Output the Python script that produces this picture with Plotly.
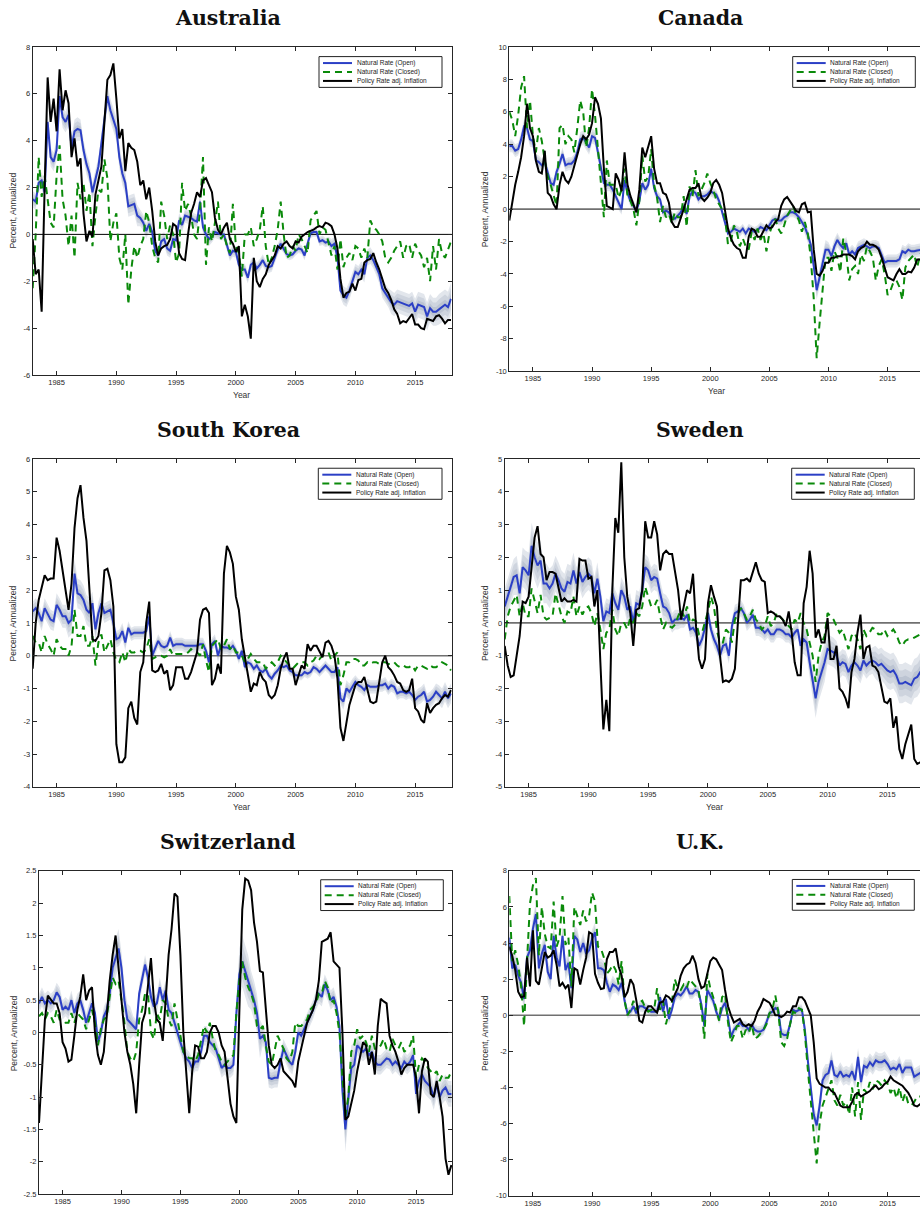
import plotly.graph_objects as go

W, H = 920, 1215

# quarterly dates 1983Q1 .. 2018Q1
quarters = [1983 + i / 4 for i in range(141)]
x_ticks = [1985, 1990, 1995, 2000, 2005, 2010, 2015]

# ---------------- Australia ----------------
aus_open = [1.5, 1.4, 2.2, 2.3, 1.8, 4.8, 3.3, 3.1, 3.6, 5.9, 5.0, 4.8, 5.1, 3.7, 4.4, 4.5,
            4.45, 3.6, 3.0, 2.6, 1.8, 2.4, 2.9, 3.9, 4.8, 5.9, 5.3, 4.9, 4.5, 3.3, 2.6, 2.2,
            1.2, 1.25, 1.3, 0.8, 0.7, 0.5, 0.15, 0.45, 0.1, -0.7, -0.9, -0.3, -0.2, -0.6, -0.7, -0.2,
            -0.25, 0.6, 0.4, 0.8, 0.75, 0.7, 0.6, 0.55, 1.4, 0.3, 0.0, -0.2, -0.1, 0.1, 0.05, 0.0,
            0.0, -0.5, -0.9, -0.7, -0.75, -1.3, -1.5, -1.5, -1.85, -1.3, -1.2, -1.45, -1.3, -1.1, -1.35, -1.4,
            -1.35, -1.0, -0.65, -0.4, -0.6, -0.85, -0.9, -0.85, -0.7, -0.6, -0.65, -0.9, -0.4, 0.05, 0.1, 0.1,
            -0.3, -0.25, -0.35, -0.3, -0.5, -0.4, -1.0, -2.4, -2.6, -2.7, -2.4, -2.0, -1.6, -1.7, -1.5, -1.7,
            -1.0, -0.9, -1.1, -1.4, -1.7, -2.3, -2.5, -2.7, -2.9, -3.0, -2.85, -2.9, -2.95, -3.0, -3.05, -2.95,
            -3.3, -3.0, -3.05, -3.1, -3.5, -3.15, -3.3, -3.3, -3.2, -3.1, -3.0, -3.1, -2.75]
aus_closed = [-2.3, 0.0, 3.3, 1.6, 2.5, 1.5, 0.5, 0.3, 2.5, 3.8, 1.5, 0.8, -0.5, 0.8, -1.0, 2.2,
              1.5, 2.2, 1.0, 1.8, -0.5, 0.8, 1.9, 1.8, 3.2, 2.4, -0.3, 0.5, 0.9, -1.0, -1.5, 0.0,
              -3.0, -1.5, -0.5, -1.0, -0.5, -0.2, 1.0, 0.5, -0.5, -1.0, -1.2, 1.4, 0.8, -0.2, 0.4, 0.0,
              -1.2, -0.8, 2.2, 1.0, 1.3, 0.8, 0.0, -0.2, 1.0, 3.3, -1.3, 0.3, -0.3, 0.5, 1.4, -0.2,
              0.0, -0.5, -0.8, 1.3, -0.5, -0.8, -1.8, 0.0, 0.0, 0.3, -0.5, -0.2, 0.2, 1.2, -0.5, -1.3,
              -1.0, -0.5, 0.2, 1.4, 0.0, -1.0, -0.9, -0.5, -0.7, 0.0, -0.2, -0.5, -0.8, 0.6, 0.8, 1.0,
              0.0, 0.3, 0.2, -0.4, -0.9, -0.5, -1.5, -0.2, -1.4, -1.0, -0.8, -1.1, -0.5, -0.6, -1.0, -0.6,
              -1.0, 0.6, 0.3, 0.2, 0.0, -0.3, -1.0, -1.2, -1.0, -0.7, -0.5, -0.3, -1.0, -0.5, -0.4, -1.0,
              -0.4, -0.7, -0.9, -1.4, -1.0, -2.0, -0.5, -1.5, -0.2, -0.8, -1.0, -0.6, -0.3]
aus_policy = [-0.2, -1.7, -1.5, -3.3, 2.0, 6.7, 4.8, 5.8, 4.4, 7.05, 5.3, 6.15, 5.6, 3.3, 4.1, 2.9,
              3.25, 0.9, -0.3, 0.15, -0.1, 1.7, 2.3, 2.9, 4.8, 6.6, 6.8, 7.3, 5.8, 4.1, 4.5, 2.7,
              3.9, 3.7, 3.6, 3.1, 2.1, 2.3, 1.5, 2.0, 1.0, -0.3, -0.9, -0.6, -0.5, -0.45, -0.2, 0.45,
              0.35, -0.8, -1.05, -1.1, 0.0, 0.9, 1.3, 1.8, 1.6, 2.3, 2.4, 2.1, 1.8, 0.7, 0.2, 0.0,
              0.3, 0.5, -0.2, -0.4, -0.75, -0.5, -3.5, -3.0, -3.5, -4.45, -1.0, -2.0, -2.25, -1.9, -1.7, -1.3,
              -1.1, -0.9, -0.5, -0.6, -0.4, -0.3, -0.5, -0.6, -0.3, -0.35, -0.1, 0.0, 0.1, 0.15, 0.2, 0.3,
              0.35, 0.3, 0.5, 0.45, 0.35, 0.0, -0.6, -1.9, -2.7, -2.5, -2.45, -2.1, -2.4, -1.95, -1.9, -1.2,
              -1.1, -1.05, -0.8, -1.2, -1.5, -1.9, -2.3, -2.5, -2.8, -3.2, -3.4, -3.8, -3.7, -3.75, -3.55, -3.4,
              -3.85, -3.85, -4.0, -4.05, -3.6, -3.65, -3.7, -3.5, -3.45, -3.6, -3.8, -3.65, -3.65]
aus_band = [0.35, 0.4, 0.45, 0.5, 0.45, 0.4, 0.5, 0.5, 0.45, 0.35, 0.3, 0.3, 0.3, 0.3, 0.3, 0.25,
            0.25, 0.25, 0.25, 0.25, 0.25, 0.2, 0.2, 0.2, 0.2, 0.3, 0.4, 0.35, 0.35, 0.4, 0.5, 0.5,
            0.55, 0.6, 0.65, 0.7]

# ---------------- Canada ----------------
can_open = [3.9, 3.9, 3.6, 3.7, 4.3, 5.1, 5.0, 4.3, 4.2, 3.0, 2.9, 2.7, 2.9, 2.2, 1.6, 1.5,
            2.3, 2.8, 3.4, 2.7, 2.8, 2.8, 3.0, 3.5, 4.3, 4.4, 4.1, 3.8, 4.5, 4.4, 3.5, 2.5,
            1.6, 1.5, 1.5, 1.2, 0.8, 0.3, 0.0, 1.8, 1.0, 0.5, 0.2, -0.1, 0.5, 1.6, 1.2, 1.5,
            2.5, 1.3, 0.8, 0.6, -0.2, -0.1, -0.2, -0.5, -0.6, -0.4, -0.2, 0.2, -0.3, 0.8, 1.1, 1.0,
            0.6, 0.8, 0.8, 0.9, 1.1, 1.0, 0.9, 0.5, -0.2, -0.8, -1.5, -1.4, -1.2, -1.3, -1.4, -1.2,
            -1.5, -1.2, -1.3, -1.4, -1.3, -1.1, -1.2, -1.3, -1.0, -0.7, -0.6, -0.7, -0.7, -0.5, -0.4, -0.2,
            -0.2, -0.3, -0.5, -0.8, -1.1, -1.6, -2.2, -3.5, -5.0, -4.2, -3.4, -2.5, -2.5, -2.9, -2.3, -1.9,
            -2.2, -2.4, -2.1, -2.8, -2.6, -2.8, -2.4, -2.3, -2.2, -2.3, -2.4, -2.3, -2.3, -2.4, -2.8, -3.3,
            -3.2, -3.2, -3.2, -3.2, -3.1, -2.6, -2.7, -2.5, -2.6, -2.6, -2.55, -2.5, -2.5]
can_closed = [6.0, 5.5, 4.5, 5.8, 7.5, 8.2, 5.0, 6.7, 4.5, 3.5, 5.0, 4.2, 3.0, 2.0, 1.5, 0.8,
              0.2, 5.0, 5.2, 4.0, 4.5, 4.3, 3.5, 5.0, 6.7, 6.0, 3.8, 5.0, 7.4, 5.8, 3.8, 2.0,
              -0.5, 3.0, 1.5, 1.5, 1.5, 0.7, 1.2, 2.5, 0.8, 0.5, 0.0, -1.0, 0.5, 3.3, 1.7, 2.0,
              3.7, 1.5, 0.7, -0.8, 0.2, -0.5, -0.3, -0.9, -0.2, -0.5, -0.5, 0.8, -1.1, 1.4, 0.8, 2.4,
              0.8, 1.2, 1.6, 2.2, 1.6, 1.2, 0.6, 0.3, 0.0, -0.5, -2.2, -2.0, -1.0, -1.4, -2.3, -1.8,
              -2.3, -2.5, -1.4, -1.9, -1.2, -1.9, -1.5, -2.6, -1.5, -1.0, -0.6, -1.2, -1.5, -1.0, -0.4, -0.1,
              0.2, -0.3, -0.7, -1.4, -0.8, -1.5, -3.0, -5.5, -9.2, -7.0, -4.8, -3.0, -3.0, -3.8, -2.6, -3.0,
              -3.9, -1.8, -2.7, -4.4, -3.7, -3.5, -4.0, -2.8, -3.2, -2.3, -2.6, -3.0, -4.4, -3.5, -3.1, -4.0,
              -5.3, -5.0, -4.5, -4.4, -4.8, -5.6, -3.6, -3.2, -3.0, -2.8, -3.6, -2.8, -2.5]
can_policy = [-0.7, 0.5, 1.5, 2.3, 3.2, 4.5, 6.5, 5.0, 4.5, 3.0, 2.3, 2.2, 3.6, 1.0, 0.8, 0.3,
              0.0, 1.5, 2.3, 1.8, 1.6, 2.0, 2.7, 3.3, 4.0, 4.5, 4.3, 4.6, 5.3, 6.9, 6.5, 5.6,
              2.5, 0.2, 0.1, 0.0, 2.2, 1.8, 1.1, 3.5, 1.5, 0.8, 0.3, -0.2, 1.2, 3.8, 3.2, 3.9,
              4.5, 2.5, 1.6, 1.6, 1.0, 0.9, 0.4, -0.8, -1.1, -1.1, -0.6, 0.0, 0.6, 1.2, 1.3, 1.3,
              1.6, 0.7, 0.5, 0.7, 1.0, 1.6, 1.8, 1.5, 1.0, 0.0, -1.2, -1.8, -2.2, -2.4, -2.5, -3.0,
              -3.0, -1.7, -1.2, -1.3, -1.7, -1.7, -1.3, -1.0, -1.2, -1.1, -0.8, -0.6, 0.2, 0.6, 0.75, 0.5,
              0.2, -0.1, -0.2, 0.3, 0.4, -0.2, -0.15, -2.5, -4.0, -4.1, -3.8, -3.3, -3.3, -3.0, -3.0, -2.9,
              -2.9, -2.8, -2.8, -2.8, -2.9, -3.1, -2.6, -2.4, -2.3, -2.0, -2.2, -2.2, -2.3, -2.5, -3.0, -3.6,
              -4.2, -4.3, -4.4, -4.0, -3.7, -4.0, -4.0, -3.85, -3.9, -3.6, -3.1, -3.1, -3.0]
can_band = [0.4, 0.45, 0.4, 0.4, 0.4, 0.4, 0.45, 0.45, 0.4, 0.35, 0.35, 0.35, 0.35, 0.35, 0.3, 0.3,
            0.3, 0.3, 0.3, 0.3, 0.3, 0.3, 0.3, 0.3, 0.3, 0.45, 0.6, 0.45, 0.4, 0.4, 0.4, 0.4,
            0.4, 0.4, 0.4, 0.4]

# ---------------- South Korea ----------------
kor_open = [1.35, 1.45, 1.3, 1.05, 1.45, 1.25, 1.1, 1.05, 1.55, 1.4, 1.2, 1.2, 1.0, 1.1, 2.5, 1.9,
            1.85, 1.7, 1.4, 1.3, 1.6, 0.8, 1.3, 1.6, 1.3, 1.35, 1.4, 1.0, 0.5, 0.55, 0.75, 0.4,
            0.85, 0.65, 0.7, 0.7, 0.7, 0.7, 0.75, 1.2, 0.0, 0.25, 0.45, 0.3, 0.25, 0.3, 0.55, 0.3,
            0.35, 0.35, 0.35, 0.3, 0.3, 0.3, 0.3, 0.3, 0.35, 0.35, 0.15, -0.2, 0.35, 0.45, 0.0, 0.3,
            0.25, 0.25, 0.2, 0.3, 0.15, -0.1, 0.15, -0.35, -0.2, -0.25, -0.4, -0.3, -0.45, -0.5, -0.4, -0.6,
            -0.7, -0.55, -0.45, -0.3, -0.35, -0.3, -0.45, -0.5, -0.6, -0.6, -0.6, -0.5, -0.55, -0.5, -0.35, -0.4,
            -0.5, -0.4, -0.3, -0.4, -0.5, -0.5, -0.35, -1.3, -1.4, -1.0, -1.1, -0.95, -0.8, -0.9, -0.95, -1.05,
            -0.9, -0.95, -0.95, -0.95, -0.9, -0.9, -0.85, -1.0, -0.9, -0.95, -1.15, -1.1, -1.1, -1.15, -1.1, -1.2,
            -1.35, -1.25, -1.2, -1.1, -1.4, -1.35, -1.25, -1.1, -1.2, -1.3, -1.1, -1.3, -1.15]
kor_closed = [0.6, 0.4, 0.4, 0.1, 0.6, 0.35, 0.2, 0.0, 0.5, 0.3, 0.2, 0.2, 0.0, 0.3, 1.4, 0.6,
              0.6, 0.9, 0.3, 0.3, 0.6, -0.3, 0.4, 0.65, 0.1, 0.3, 0.5, 0.1, -0.15, -0.2, 0.1, -0.2,
              0.2, 0.1, 0.1, 0.15, 0.15, 0.1, 0.2, 0.5, -0.1, -0.05, 0.0, 0.0, -0.05, 0.0, 0.2, 0.0,
              0.05, 0.05, 0.05, 0.05, 0.1, 0.2, 0.15, 0.1, 0.0, 0.35, -0.15, -0.5, 0.3, 0.4, 0.5, 0.2,
              0.3, 0.5, 0.2, 0.3, 0.1, 0.1, 0.0, -0.2, -0.1, 0.05, -0.1, -0.2, -0.2, -0.2, -0.4, -0.3,
              -0.2, -0.3, -0.2, 0.0, -0.1, -0.2, -0.3, -0.4, -0.3, -0.2, -0.2, -0.2, -0.3, -0.2, -0.15, 0.0,
              -0.1, 0.0, 0.05, 0.1, -0.15, 0.0, 0.1, -0.9, -0.6, -0.2, -0.2, -0.1, -0.1, -0.15, -0.3, -0.3,
              -0.2, -0.25, -0.2, -0.2, -0.25, -0.2, -0.2, -0.25, -0.25, -0.2, -0.3, -0.35, -0.3, -0.35, -0.35, -0.3,
              -0.45, -0.3, -0.3, -0.35, -0.4, -0.3, -0.35, -0.35, -0.3, -0.2, -0.25, -0.3, -0.45]
kor_policy = [-0.4, 1.0, 1.7, 2.1, 2.45, 2.3, 2.35, 2.35, 3.6, 3.2, 2.6, 2.0, 1.4, 2.2, 3.9, 4.8,
              5.2, 4.2, 3.5, 2.0, 0.5, 0.45, 0.6, 1.3, 2.6, 2.65, 2.3, 1.5, -2.7, -3.25, -3.25, -3.1,
              -1.6, -1.4, -1.9, -2.1, -0.5, -0.2, 1.0, 1.65, -0.45, -0.5, -0.45, -0.25, -0.55, -0.45, -1.05, -0.9,
              -0.35, -0.35, -0.35, -0.7, -0.7, -0.5, -0.2, 0.1, 1.1, 1.4, 1.45, 1.3, -0.9, -0.7, -0.25, -0.55,
              2.5, 3.35, 3.15, 2.8, 1.8, 1.4, 0.5, 0.0, -0.6, -1.1, -0.85, -0.9, -0.5, -0.7, -0.8, -1.2,
              -1.3, -1.2, -0.9, -0.4, -0.1, 0.1, -0.4, -0.4, -0.9, -0.6, -0.3, -0.4, 0.35, 0.15, 0.3, 0.3,
              0.1, -0.05, 0.4, 0.45, 0.3, 0.0, -0.7, -2.2, -2.6, -2.0, -1.5, -1.2, -0.9, -0.8, -0.8, -0.65,
              -1.0, -1.4, -1.45, -1.4, -0.8, -0.2, 0.0, -0.35, -0.45, -0.6, -0.8, -0.85, -1.05, -1.1, -1.05, -0.7,
              -1.6, -1.7, -1.95, -2.05, -1.45, -1.75, -1.6, -1.5, -1.45, -1.3, -1.2, -1.25, -1.05]
kor_band = [0.3, 0.3, 0.35, 0.45, 0.45, 0.35, 0.3, 0.25, 0.2, 0.2, 0.2, 0.2, 0.2, 0.2, 0.2, 0.2,
            0.2, 0.15, 0.15, 0.15, 0.15, 0.15, 0.15, 0.15, 0.15, 0.2, 0.25, 0.2, 0.2, 0.2, 0.2, 0.2,
            0.25, 0.25, 0.3, 0.3]

# ---------------- Sweden ----------------
swe_open = [0.5, 0.8, 1.1, 1.4, 1.45, 0.9, 1.7, 1.6, 1.45, 2.35, 2.0, 1.75, 1.9, 1.2, 1.2, 1.05,
            1.2, 1.5, 1.3, 1.05, 0.95, 1.25, 1.2, 1.6, 1.2, 1.55, 1.25, 1.4, 1.5, 1.4, 0.9, 1.35,
            0.8, 0.05, 0.35, 0.3, 0.9, 0.6, 0.4, 1.0, 0.8, 0.4, 0.5, 0.0, 0.6, 0.55, 1.0, 1.7,
            1.6, 1.3, 1.4, 1.35, 0.9, 0.5, 0.45, 0.3, 0.0, 0.1, 0.1, 0.15, 0.1, 0.25, -0.2, -0.15,
            -0.3, -0.7, -0.5, -0.15, 0.3, -0.2, -0.5, -0.7, -1.0, -0.7, -0.65, -1.0, -0.1, 0.3, 0.35, 0.45,
            0.3, 0.0, 0.1, 0.25, -0.15, -0.15, -0.2, -0.3, -0.2, -0.35, -0.35, -0.2, -0.2, -0.25, -0.35, -0.35,
            -0.45, -0.3, -0.2, -0.7, -0.5, -0.6, -1.2, -1.8, -2.3, -1.8, -1.5, -1.2, -0.8, -0.85, -0.9, -1.0,
            -1.3, -1.2, -1.25, -1.5, -1.3, -1.2, -1.3, -1.45, -1.15, -1.3, -1.2, -1.15, -1.2, -1.3, -1.25, -1.35,
            -1.45, -1.5, -1.45, -1.6, -1.85, -1.85, -1.8, -1.85, -1.9, -1.7, -1.65, -1.5, -1.5]
swe_closed = [-0.5, 0.2, 0.5, 0.7, 0.85, 0.2, 0.6, 0.2, 0.2, 1.05, 0.7, 0.3, 0.85, 0.2, 0.1, 0.15,
              0.2, 0.9, 0.5, 0.2, 0.0, 0.35, 0.3, 0.8, 0.2, 0.5, 0.25, 0.45, 0.5, 0.3, -0.1, 0.3,
              -0.2, -0.8, -0.3, -0.2, 0.4, -0.2, -0.4, 0.0, 0.0, -0.2, 0.15, 0.0, 0.3, 0.2, 0.5, 1.1,
              0.8, 0.5, 0.5, 0.7, 0.2, -0.2, 0.0, -0.1, -0.15, -0.05, 0.2, 0.4, 0.2, 0.5, 0.0, 0.1,
              0.05, -0.35, -0.3, 0.0, 0.35, 0.8, 0.5, -0.25, -0.6, -0.6, -0.2, -0.3, -0.6, 0.1, 0.3, 0.45,
              0.3, 0.1, 0.2, 0.4, 0.1, 0.0, -0.2, -0.1, 0.2, -0.1, 0.0, 0.3, 0.2, 0.1, 0.0, -0.1,
              -0.2, 0.1, 0.0, 0.3, 0.0, -0.2, -0.6, -1.0, -1.8, -1.0, -0.6, -0.4, 0.3, 0.2, 0.1, -0.1,
              -0.3, -0.2, -0.5, -0.8, -0.4, -0.3, -0.5, -0.8, -0.2, -0.4, -0.3, -0.15, -0.2, -0.35, -0.35, -0.2,
              -0.4, -0.3, -0.2, -0.35, -0.6, -0.7, -0.55, -0.5, -0.5, -0.45, -0.4, -0.35, -0.35]
swe_policy = [-0.7, -1.3, -1.65, -1.6, -1.0, -0.4, 0.65, 0.6, 0.8, 1.8, 2.6, 2.95, 2.1, 2.0, 1.3, 1.55,
              1.55, 1.5, 1.1, 0.65, 0.75, 0.65, 0.65, 0.7, 0.65, 1.95, 1.9, 1.9, 1.35, 1.4, 0.5, 1.0,
              -1.2, -3.25, -2.35, -3.3, 1.0, 3.2, 2.75, 4.9, 2.0, 0.8, 0.3, -0.7, 0.4, 0.45, 1.0, 3.1,
              2.6, 2.6, 3.1, 2.7, 1.6, 2.1, 2.2, 2.1, 2.1, 1.6, 1.0, 0.1, 0.5, 1.0, 0.9, 1.5,
              -0.1, -1.1, -1.4, -1.1, 0.6, 1.15, 0.8, 0.5, -1.0, -1.8, -1.75, -1.8, -1.7, -1.4, 0.0, 1.3,
              1.3, 1.35, 1.25, 1.55, 1.85, 1.5, 1.3, 1.25, 0.3, 0.35, 0.3, 0.2, 0.2, 0.1, -0.1, 0.35,
              -0.3, -1.2, -1.6, -1.6, 0.6, 1.1, 2.2, 1.5, -0.45, -0.2, -0.6, -0.6, 0.15, -1.1, -1.1, -0.7,
              -2.0, -2.1, -2.3, -2.6, -1.5, -1.1, -0.3, 0.25, -1.1, -0.75, -0.7, -1.3, -1.35, -1.5, -1.9, -2.4,
              -2.45, -2.3, -3.2, -2.85, -3.85, -4.15, -3.7, -3.4, -3.1, -4.15, -4.3, -4.25, -4.2]
swe_band = [0.55, 0.6, 0.7, 0.6, 0.55, 0.55, 0.5, 0.5, 0.4, 0.4, 0.4, 0.4, 0.4, 0.4, 0.3, 0.25,
            0.25, 0.25, 0.25, 0.25, 0.25, 0.25, 0.25, 0.25, 0.25, 0.45, 0.6, 0.45, 0.4, 0.4, 0.4, 0.5,
            0.55, 0.6, 0.6, 0.6]

# ---------------- Switzerland ----------------
che_open = [0.45, 0.55, 0.45, 0.5, 0.45, 0.5, 0.62, 0.55, 0.35, 0.4, 0.35, 0.5, 0.3, 0.45, 0.5, 0.35,
            0.15, 0.3, 0.45, 0.3, -0.15, 0.0, 0.25, 0.35, 0.6, 1.0, 1.15, 1.3, 1.0, 0.5, 0.2, 0.15,
            0.1, 0.05, 0.6, 0.85, 1.05, 0.85, 0.55, 0.4, 0.45, 0.7, 0.5, 0.65, 0.35, 0.3, 0.15, 0.0,
            -0.15, -0.3, -0.4, -0.45, -0.55, -0.45, -0.45, -0.3, -0.05, -0.05, -0.15, -0.2, -0.25, -0.4, -0.55, -0.5,
            -0.55, -0.55, -0.5, 0.3, 0.9, 1.1, 0.95, 0.8, 0.65, 0.5, 0.3, -0.1, -0.05, -0.15, -0.7, -0.72,
            -0.7, -0.7, -0.45, -0.25, -0.35, -0.45, -0.5, -0.3, 0.0, -0.05, 0.05, 0.15, 0.25, 0.35, 0.5, 0.6,
            0.55, 0.75, 0.65, 0.5, 0.55, 0.4, 0.1, -0.9, -1.5, -1.0, -0.55, -0.5, -0.2, -0.25, -0.3, -0.25,
            -0.35, -0.3, -0.45, -0.5, -0.5, -0.45, -0.4, -0.42, -0.5, -0.45, -0.5, -0.55, -0.45, -0.5, -0.45, -0.35,
            -0.95, -0.75, -0.65, -0.75, -0.8, -0.85, -1.0, -0.8, -1.0, -0.9, -0.85, -0.95, -0.95]
che_closed = [0.25, 0.3, 0.2, 0.3, 0.25, 0.15, 0.35, 0.2, 0.2, 0.15, 0.15, 0.3, 0.15, 0.3, 0.25, 0.2,
              0.05, 0.2, 0.35, 0.15, -0.2, 0.05, 0.2, 0.25, 0.55, 0.85, 0.75, 0.8, 0.5, 0.15, -0.3, -0.4,
              -0.45, -0.3, 0.2, 0.35, 0.6, 0.6, 0.0, -0.1, 0.3, 0.2, 0.5, 0.45, 0.2, 0.1, 0.45, 0.2,
              -0.1, -0.3, -0.35, -0.4, -0.4, -0.45, -0.35, -0.15, 0.1, 0.0, 0.15, -0.1, -0.3, -0.35, -0.45, -0.5,
              -0.45, -0.4, -0.35, 0.3, 0.8, 1.1, 0.85, 0.7, 0.6, 0.45, 0.1, 0.05, 0.1, -0.2, -0.45, -0.5,
              -0.25, -0.05, -0.15, -0.25, -0.4, -0.45, -0.3, 0.15, 0.1, 0.1, 0.15, 0.2, 0.35, 0.4, 0.45, 0.6,
              0.6, 0.8, 0.7, 0.45, 0.5, 0.3, 0.0, -0.7, -1.3, -1.0, -0.3, -0.2, 0.05, -0.1, -0.05, -0.15,
              -0.3, -0.05, -0.25, -0.25, -0.2, -0.1, -0.25, -0.3, -0.1, -0.2, -0.25, -0.15, -0.3, -0.25, -0.2, -0.05,
              -0.7, -0.5, -0.4, -0.45, -0.55, -0.6, -0.65, -0.6, -0.75, -0.65, -0.7, -0.7, -0.6]
che_policy = [-1.4, -0.5, 0.2, 0.57, 0.5, 0.45, 0.45, 0.3, -0.15, -0.25, -0.45, -0.42, -0.05, 0.35, 0.55, 0.9,
              0.5, 0.65, 0.7, 0.0, -0.35, -0.5, -0.3, 0.3, 0.8, 1.2, 1.5, 1.0, 0.5, 0.0, -0.3, -0.5,
              -0.8, -1.25, -0.5, 0.15, 0.3, 0.7, 1.15, 0.5, 0.2, 0.15, -0.13, 0.5, 1.2, 1.6, 2.15, 2.1,
              1.2, 0.0, -0.7, -1.25, -0.6, -0.2, -0.22, -0.4, -0.4, -0.3, 0.0, 0.1, 0.1, 0.0, -0.2, -0.3,
              -0.7, -1.1, -1.3, -1.4, 0.3, 1.9, 2.38, 2.35, 2.2, 1.7, 1.4, 0.95, 0.93, 0.3, -0.2, -0.5,
              -0.55, -0.5, -0.4, -0.6, -0.65, -0.7, -0.75, -0.85, -0.45, -0.25, -0.05, 0.15, 0.25, 0.35, 0.5, 0.8,
              1.4, 1.42, 1.45, 1.55, 1.1, 1.05, 1.0, 0.0, -1.35, -1.3, -1.1, -0.9, -0.6, -0.35, -0.15, -0.2,
              -0.5, -0.3, -0.65, 0.1, 0.52, 0.48, 0.45, -0.05, -0.2, -0.3, -0.45, -0.65, -0.55, -0.5, -0.5, -0.5,
              -0.7, -1.25, -0.6, -0.4, -0.45, -0.95, -1.0, -0.75, -1.0, -1.3, -1.95, -2.2, -2.05]
che_band = [0.15, 0.15, 0.15, 0.15, 0.15, 0.15, 0.3, 0.25, 0.15, 0.15, 0.15, 0.15, 0.15, 0.15, 0.15, 0.15,
            0.15, 0.4, 0.3, 0.15, 0.15, 0.15, 0.15, 0.15, 0.15, 0.15, 0.35, 0.15, 0.15, 0.15, 0.15, 0.15,
            0.2, 0.2, 0.2, 0.2]

# ---------------- U.K. ----------------
gbr_open = [4.3, 2.6, 2.8, 2.2, 1.8, 0.9, 3.2, 3.6, 4.8, 5.6, 2.6, 3.4, 3.9, 2.4, 2.0, 4.4,
            3.2, 2.7, 4.4, 2.5, 2.9, 1.5, 4.4, 4.2, 3.5, 4.0, 3.4, 3.6, 4.2, 4.6, 2.6, 2.6,
            2.5, 1.8, 1.3, 1.7, 1.6, 1.4, 1.8, 0.8, 0.1, 0.2, 0.5, 0.1, 0.5, 0.5, 0.4, 0.3,
            0.2, 0.2, 0.2, 1.0, 0.2, 0.9, -0.2, 0.3, 1.0, 1.2, 1.1, 1.3, 1.6, 1.2, 1.2, 1.4,
            1.3, 0.6, -0.6, 1.4, 1.1, 0.8, 0.2, -0.2, 0.4, 0.7, -0.1, -1.2, -0.8, -0.6, -0.4, -0.6,
            -0.6, -0.8, -0.5, -0.8, -0.9, -0.9, -0.8, -0.4, 0.1, 0.2, 0.4, 0.3, -1.0, -1.1, -1.1, -0.5,
            0.3, 0.2, 0.3, 0.3, -0.8, -2.5, -4.0, -5.5, -6.1, -5.0, -3.6, -3.3, -3.2, -2.5, -3.3, -3.4,
            -3.1, -3.4, -3.3, -3.4, -3.1, -3.6, -2.3, -3.7, -2.8, -2.9, -2.6, -2.8, -2.5, -2.6, -2.6, -2.5,
            -2.7, -3.0, -2.9, -3.0, -2.7, -3.2, -2.9, -2.9, -2.9, -3.4, -3.3, -3.2, -3.2]
gbr_closed = [6.6, 3.0, 3.6, 2.8, 1.6, -0.6, 3.0, 6.2, 7.2, 7.6, 3.3, 6.0, 4.5, 3.8, 3.7, 6.3,
              3.8, 4.3, 6.6, 3.9, 4.3, 1.6, 6.0, 5.5, 5.0, 5.8, 5.2, 5.5, 6.8, 6.3, 3.8, 3.7,
              3.2, 2.3, 2.5, 2.8, 2.5, 1.7, 3.0, 0.8, 0.0, 0.3, 0.8, 0.3, 0.7, 0.8, 0.4, 0.2,
              0.3, 0.3, 1.5, 0.3, 0.8, -0.5, 0.2, 0.7, 2.0, 1.5, 1.4, 1.7, 1.5, 2.0, 1.8, 1.6,
              1.4, 0.3, -1.3, 2.3, 1.5, 1.0, 0.3, -0.3, 1.0, 1.2, -0.4, -1.5, -1.1, -0.6, -0.6, -1.3,
              -0.8, -1.0, -0.5, -1.3, -1.2, -1.0, -0.8, -0.5, 0.1, 0.3, 1.1, 0.2, -1.5, -1.7, -1.3, -0.5,
              0.2, 0.1, 0.4, 0.3, -1.0, -3.0, -5.0, -6.5, -8.2, -6.0, -5.0, -4.5, -4.0, -3.6, -4.7, -5.0,
              -4.4, -5.0, -4.8, -5.5, -4.0, -5.6, -3.7, -5.8, -4.1, -4.3, -3.7, -4.1, -3.6, -3.7, -3.9, -3.6,
              -3.8, -4.3, -4.0, -4.6, -4.0, -4.8, -4.3, -4.9, -5.0, -4.8, -4.5, -4.5, -4.4]
gbr_policy = [3.8, 3.3, 2.5, 1.3, 1.0, 1.05, 3.2, 1.6, 4.7, 1.9, 1.7, 2.6, 3.5, 3.2, 3.3, 3.6,
              2.8, 1.6, 1.8, 1.5, 1.7, 0.4, 2.6, 2.5, 1.7, 2.5, 3.2, 4.6, 4.5, 2.3, 1.8, 1.45,
              1.5, 3.1, 3.5, 3.5, 3.7, 2.7, 2.2, 1.0, 1.3, 2.0, 1.7, 0.8, -0.3, -0.4, 0.2, 0.5,
              0.5, 0.3, 0.15, 0.7, 0.75, 1.1, 1.0, 0.8, 1.2, 1.5, 2.2, 2.6, 2.8, 2.9, 3.3, 2.9,
              2.0, 1.5, 1.6, 2.3, 3.0, 3.2, 3.1, 2.8, 2.5, 1.4, 0.5, 0.0, -0.4, -0.3, -0.2, -0.5,
              -0.6, -0.5, -0.6, -0.3, 0.2, 0.5, 0.9, 0.8, 0.7, 0.4, 0.0, 0.0, -0.1, 0.0, 0.2, 0.15,
              0.5, 0.5, 1.0, 1.0, 0.8, 0.4, 0.0, -1.5, -3.5, -3.8, -3.9, -4.0, -4.0, -4.2, -4.3, -4.7,
              -5.0, -5.1, -5.1, -5.1, -4.8, -4.4, -4.3, -4.5, -4.4, -4.3, -4.2, -4.0, -3.9, -4.1, -4.0, -3.8,
              -3.7, -3.4, -3.6, -3.7, -3.8, -3.9, -4.1, -4.3, -4.6, -5.0, -5.05, -4.9, -4.8]
gbr_band = [0.7, 0.65, 0.65, 0.6, 0.6, 0.6, 0.55, 0.55, 0.5, 0.35, 0.3, 0.3, 0.3, 0.3, 0.3, 0.3,
            0.3, 0.3, 0.3, 0.3, 0.3, 0.3, 0.3, 0.3, 0.3, 0.5, 0.6, 0.5, 0.5, 0.5, 0.5, 0.5,
            0.45, 0.45, 0.45, 0.45]

SERIES_NAMES = ["Natural Rate (Open)", "Natural Rate (Closed)", "Policy Rate adj. Inflation"]

# ---------------- styling / layout ----------------
BLUE = "#2b3fc6"
GREEN = "#0a8a0a"
BLACK = "#000000"
BAND_COLORS = ["#e2e6ec", "#ced4de", "#bcc4d2"]
BAND_FRACS = [1.0, 0.66, 0.33]
DASH = "7px,5px"


def px_x(v):
    """window pixel -> paper fraction"""
    return v / W


def px_y(v):
    return 1 - v / H


panels = [
    dict(title="Australia", open=aus_open, closed=aus_closed, policy=aus_policy, band=aus_band,
         box=(32.7, 451.7, 43.3, 373.7), xr=(1983.0, 2018.06), yr=(-6, 8), dy=2, right=False,
         title_xy=(228, 14.5), ylab_xy=(13, 208), xlab_xy=(242, 394), leg=(319, 53, 442, 84),
         zero=("#000000", 1.0)),
    dict(title="Canada", open=can_open, closed=can_closed, policy=can_policy, band=can_band,
         box=(509.3, 920, 43.3, 370.0), xr=(1983.0, 2017.74), yr=(-10, 10), dy=2, right=True,
         title_xy=(700.5, 14.5), ylab_xy=(485.7, 207), xlab_xy=(716, 390), leg=(792.7, 53, 915.3, 84),
         zero=("#707070", 1.6)),
    dict(title="South Korea", open=kor_open, closed=kor_closed, policy=kor_policy, band=kor_band,
         box=(32.7, 451.7, 458.3, 788.7), xr=(1983.0, 2018.06), yr=(-4, 6), dy=1, right=False,
         title_xy=(228, 429.5), ylab_xy=(13, 624), xlab_xy=(242, 809), leg=(318.3, 467.7, 442, 499),
         zero=("#707070", 1.6)),
    dict(title="Sweden", open=swe_open, closed=swe_closed, policy=swe_policy, band=swe_band,
         box=(504.7, 920, 458.3, 788.7), xr=(1983.0, 2017.73), yr=(-5, 5), dy=1, right=True,
         title_xy=(700, 429.5), ylab_xy=(485.7, 624), xlab_xy=(714, 809), leg=(791.7, 467.7, 914.3, 499),
         zero=("#707070", 1.6)),
    dict(title="Switzerland", open=che_open, closed=che_closed, policy=che_policy, band=che_band,
         box=(39.0, 452.0, 873.3, 1199.0), xr=(1983.0, 2018.05), yr=(-2.5, 2.5), dy=0.5, right=False,
         title_xy=(228, 844.5), ylab_xy=(14, 1037), xlab_xy=None, leg=(320.7, 882.3, 443.3, 913.3),
         zero=("#000000", 1.0)),
    dict(title="U.K.", open=gbr_open, closed=gbr_closed, policy=gbr_policy, band=gbr_band,
         box=(509.3, 920, 873.3, 1200.7), xr=(1983.0, 2017.74), yr=(-10, 8), dy=2, right=True,
         title_xy=(700, 844.5), ylab_xy=(485.7, 1037), xlab_xy=None, leg=(792.3, 882, 914.3, 913),
         zero=("#707070", 1.6)),
]

for p in panels:
    for k in ("open", "closed", "policy"):
        assert len(p[k]) == len(quarters), (p["title"], k, len(p[k]))
    assert len(p["band"]) == 36, (p["title"], "band", len(p["band"]))

fig = go.Figure()
layout = dict(width=W, height=H, margin=dict(l=0, r=0, t=0, b=0),
              paper_bgcolor="white", plot_bgcolor="white", showlegend=False, hovermode=False)
shapes, annotations = [], []

AXIS_COLOR = "#262626"
TICK_FONT = dict(family="Liberation Sans, Arial, sans-serif", size=7.5, color=AXIS_COLOR)
LABEL_FONT = dict(family="Liberation Sans, Arial, sans-serif", size=8.5, color="#333333")
LEG_FONT = dict(family="Liberation Sans, Arial, sans-serif", size=6.5, color="#1a1a1a")

for i, p in enumerate(panels, start=1):
    sfx = "" if i == 1 else str(i)
    xa, ya = "x" + sfx, "y" + sfx
    x0, x1, y0, y1 = p["box"]

    bw_q = [p["band"][int(t - 1983)] for t in quarters]

    # confidence bands (nested)
    for frac, col in zip(BAND_FRACS, BAND_COLORS):
        lo = [m - frac * b for m, b in zip(p["open"], bw_q)]
        hi = [m + frac * b for m, b in zip(p["open"], bw_q)]
        fig.add_trace(go.Scatter(x=quarters, y=lo, mode="lines", line=dict(width=0, color=col),
                                 xaxis=xa, yaxis=ya, hoverinfo="skip", showlegend=False))
        fig.add_trace(go.Scatter(x=quarters, y=hi, mode="lines", line=dict(width=0, color=col),
                                 fill="tonexty", fillcolor=col, xaxis=xa, yaxis=ya,
                                 hoverinfo="skip", showlegend=False))

    # zero reference line
    fig.add_trace(go.Scatter(x=[1982.5, 2018.5], y=[0, 0], mode="lines",
                             line=dict(color=p["zero"][0], width=p["zero"][1]),
                             xaxis=xa, yaxis=ya, hoverinfo="skip", showlegend=False))

    fig.add_trace(go.Scatter(x=quarters, y=p["open"], mode="lines", name=SERIES_NAMES[0],
                             line=dict(color=BLUE, width=2), xaxis=xa, yaxis=ya))
    fig.add_trace(go.Scatter(x=quarters, y=p["closed"], mode="lines", name=SERIES_NAMES[1],
                             line=dict(color=GREEN, width=2, dash=DASH), xaxis=xa, yaxis=ya))
    fig.add_trace(go.Scatter(x=quarters, y=p["policy"], mode="lines", name=SERIES_NAMES[2],
                             line=dict(color=BLACK, width=2), xaxis=xa, yaxis=ya))

    ymin, ymax = p["yr"]
    n = int(round((ymax - ymin) / p["dy"]))
    yvals = [ymin + k * p["dy"] for k in range(n + 1)]
    ytext = [f"{v:g}" for v in yvals]

    layout["xaxis" + sfx] = dict(domain=[px_x(x0), min(1.0, px_x(x1))], anchor=ya, range=list(p["xr"]),
                                 showgrid=False, zeroline=False, showline=True, linecolor=AXIS_COLOR,
                                 linewidth=1, mirror="ticks", ticks="inside", ticklen=4,
                                 tickcolor=AXIS_COLOR, tickvals=x_ticks,
                                 ticktext=[str(v) for v in x_ticks], tickfont=TICK_FONT)
    layout["yaxis" + sfx] = dict(domain=[px_y(y1), px_y(y0)], anchor=xa, range=[ymin, ymax],
                                 showgrid=False, zeroline=False, showline=True, linecolor=AXIS_COLOR,
                                 linewidth=1, mirror=(False if p["right"] else "ticks"),
                                 ticks="inside", ticklen=4, tickcolor=AXIS_COLOR,
                                 tickvals=yvals, ticktext=ytext, tickfont=TICK_FONT)

    # titles and axis labels
    tx, ty = p["title_xy"]
    annotations.append(dict(text="<b>" + p["title"] + "</b>", x=px_x(tx), y=px_y(ty),
                            xref="paper", yref="paper", showarrow=False,
                            xanchor="center", yanchor="middle",
                            font=dict(family="DejaVu Serif, serif", size=20.5, color="#111111")))
    lx, ly = p["ylab_xy"]
    annotations.append(dict(text="Percent, Annualized", x=px_x(lx), y=px_y(ly), xref="paper",
                            yref="paper", showarrow=False, textangle=-90, xanchor="center",
                            yanchor="middle", font=LABEL_FONT))
    if p["xlab_xy"] is not None:
        bx, by = p["xlab_xy"]
        annotations.append(dict(text="Year", x=px_x(bx), y=px_y(by), xref="paper", yref="paper",
                                showarrow=False, xanchor="center", yanchor="middle",
                                font=LABEL_FONT))

    # legend box drawn manually
    L, T, R, B = p["leg"]
    shapes.append(dict(type="rect", xref="paper", yref="paper", x0=px_x(L), x1=px_x(R),
                       y0=px_y(B), y1=px_y(T), line=dict(color="#222222", width=1),
                       fillcolor="white", layer="above"))
    rows = [6.5, 15.5, 24.5]
    styles = [dict(color=BLUE, width=2), dict(color=GREEN, width=2, dash=DASH),
              dict(color=BLACK, width=2)]
    for name, dyr, st in zip(SERIES_NAMES, rows, styles):
        shapes.append(dict(type="line", xref="paper", yref="paper", x0=px_x(L + 4), x1=px_x(L + 33),
                           y0=px_y(T + dyr), y1=px_y(T + dyr), line=st, layer="above"))
        annotations.append(dict(text=name, x=px_x(L + 35.5), y=px_y(T + dyr), xref="paper",
                                yref="paper", showarrow=False, xanchor="left", yanchor="middle",
                                font=LEG_FONT))

layout["shapes"] = shapes
layout["annotations"] = annotations
fig.update_layout(**layout)

# remove the browser's default 8px page margin so the 920x1215 figure fills the window exactly
fig.write_html("out.html",
               config={"displayModeBar": False, "staticPlot": True},
               post_script="document.body.style.margin='0';document.body.style.overflow='hidden';")
